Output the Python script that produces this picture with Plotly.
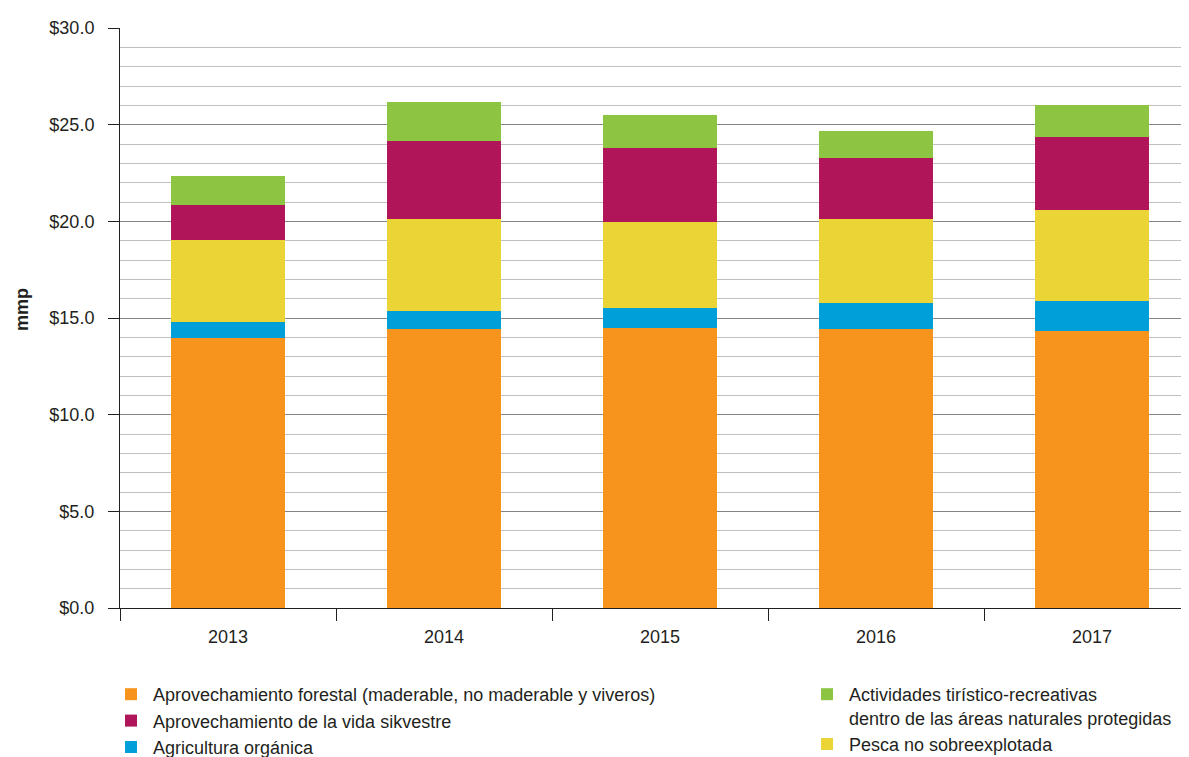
import plotly.graph_objects as go

years = ["2013", "2014", "2015", "2016", "2017"]
forestal = [13.98, 14.45, 14.50, 14.45, 14.34]
agricultura = [0.83, 0.93, 1.03, 1.34, 1.56]
pesca = [4.24, 4.76, 4.45, 4.35, 4.70]
vida_silvestre = [1.81, 4.03, 3.83, 3.15, 3.78]
turismo = [1.50, 2.02, 1.71, 1.40, 1.65]

y_ticks = [0, 5, 10, 15, 20, 25, 30]
y_tick_labels = ["$0.0", "$5.0", "$10.0", "$15.0", "$20.0", "$25.0", "$30.0"]

FONT = "Liberation Sans, Arial, sans-serif"
TXT = "#231f20"
# page body has an 8px margin, so the figure is sized to fill the remaining window
W, H = 1181, 749

series = [
    ("Aprovechamiento forestal (maderable, no maderable y viveros)", forestal, "#F7941D", "legend", 1),
    ("Agricultura orgánica", agricultura, "#009FDA", "legend", 3),
    ("Pesca no sobreexplotada", pesca, "#EBD536", "legend2", 2),
    ("Aprovechamiento de la vida sikvestre", vida_silvestre, "#B0155A", "legend", 2),
    ("Actividades tirístico-recreativas<br>dentro de las áreas naturales protegidas", turismo, "#8DC542", "legend2", 1),
]

fig = go.Figure()
for name, vals, color, leg, rank in series:
    fig.add_trace(go.Bar(
        x=years, y=vals, name=name, marker=dict(color=color, line=dict(width=0)),
        width=0.53, legend=leg, legendrank=rank, legendgroup=name,
    ))

left, top, bottom = 112, 20, 149
plot_w = W - left
plot_h = H - top - bottom
span = plot_w / 216.0

fig.update_layout(
    width=W, height=H,
    barmode="stack",
    plot_bgcolor="white", paper_bgcolor="white",
    margin=dict(l=left, r=0, t=top, b=bottom, autoexpand=False),
    font=dict(family=FONT, size=18, color=TXT),
    showlegend=True,
    legend=dict(
        xref="container", yref="container", x=101 / W, y=1 - 668 / H,
        xanchor="left", yanchor="top", orientation="v", itemwidth=34,
        font=dict(family=FONT, size=18, color=TXT),
        tracegroupgap=0, itemclick=False, bgcolor="rgba(0,0,0,0)",
    ),
    legend2=dict(
        xref="container", yref="container", x=797 / W, y=1 - 668 / H,
        xanchor="left", yanchor="top", orientation="v", valign="top", itemwidth=34,
        font=dict(family=FONT, size=18, color=TXT),
        tracegroupgap=0, itemclick=False, bgcolor="rgba(0,0,0,0)",
    ),
    xaxis=dict(
        type="category", range=[-0.5, -0.5 + span],
        showline=True, linecolor="#231f20", linewidth=1,
        ticks="outside", tickson="boundaries", ticklen=12, tickcolor="#231f20",
        showgrid=False, tickfont=dict(size=18, color=TXT),
        ticklabelstandoff=12,
    ),
    yaxis=dict(
        range=[0, 30], tickvals=y_ticks, ticktext=y_tick_labels,
        showline=True, linecolor="#231f20", linewidth=1,
        ticks="outside", ticklen=11, tickcolor="#231f20",
        showgrid=True, gridcolor="#858585", gridwidth=1,
        minor=dict(dtick=1, showgrid=True, gridcolor="#c0c0c0", gridwidth=1),
        zeroline=False, tickfont=dict(size=18, color=TXT),
        ticklabelstandoff=10,
    ),
    annotations=[dict(
        text="<b>mmp</b>", xref="paper", yref="paper", x=0, y=(600 - 302) / plot_h,
        xanchor="center", yanchor="middle", xshift=-(left - 14), textangle=-90,
        showarrow=False, font=dict(family=FONT, size=18, color=TXT),
    )],
)

fig.write_html("out.html")
